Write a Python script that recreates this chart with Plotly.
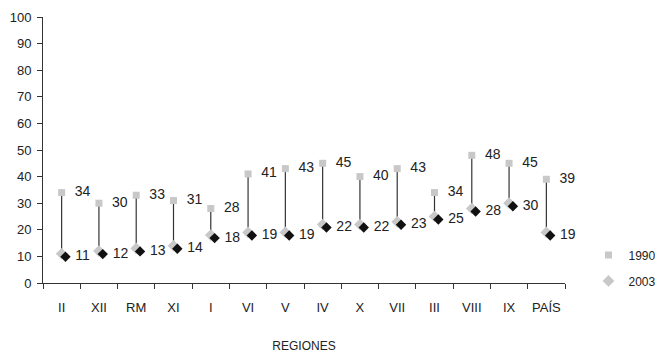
import plotly.graph_objects as go

regiones = ["II", "XII", "RM", "XI", "I", "VI", "V", "IV", "X", "VII", "III", "VIII", "IX", "PAÍS"]
v1990 = [34, 30, 33, 31, 28, 41, 43, 45, 40, 43, 34, 48, 45, 39]
v2003 = [11, 12, 13, 14, 18, 19, 19, 22, 22, 23, 25, 28, 30, 19]

FONT = "Liberation Sans, Arial, sans-serif"
GREY = "#c8c8c8"

diff = [a - b for a, b in zip(v1990, v2003)]

fig = go.Figure()

# shadowed black diamonds (2003) drawn on offset axes, with labels
fig.add_trace(go.Scatter(
    x=regiones, y=v2003, mode="markers+text", xaxis="x2", yaxis="y2",
    marker=dict(symbol="diamond", size=8, color="#111111"),
    text=[f" {v}" for v in v2003], textposition="middle right",
    textfont=dict(family=FONT, size=14, color="#222222"),
    showlegend=False, hoverinfo="skip", cliponaxis=False,
))

# 1990 with drop line to 2003
fig.add_trace(go.Scatter(
    x=regiones, y=v1990, mode="markers+text", name="1990",
    marker=dict(symbol="square", size=7, color=GREY),
    error_y=dict(type="data", symmetric=False, array=[0] * len(v1990),
                 arrayminus=diff, width=0, thickness=1.2, color="#333333"),
    text=[f"  {v}" for v in v1990], textposition="middle right",
    textfont=dict(family=FONT, size=14, color="#222222"),
    legendgroup="a", cliponaxis=False,
))

fig.add_trace(go.Scatter(
    x=regiones, y=v2003, mode="markers", name="2003",
    marker=dict(symbol="diamond", size=9, color=GREY),
    legendgroup="b", cliponaxis=False,
))

px_per_cat = 545 / 14
dx = 4 / px_per_cat
dy = 3 / 2.66

fig.update_layout(
    width=663, height=345,
    margin=dict(l=35, r=83, t=9, b=70),
    paper_bgcolor="white", plot_bgcolor="white",
    font=dict(family=FONT, size=13, color="#222222"),
    xaxis=dict(
        type="category", categoryorder="array", categoryarray=regiones,
        range=[-0.5, 13.5], showline=True, linecolor="#333333", linewidth=1,
        ticks="outside", tickson="boundaries", ticklen=5, tickcolor="#333333",
        showgrid=False, zeroline=False, ticklabelstandoff=12, tickangle=0,
        automargin=False,
        tickfont=dict(family=FONT, size=13, color="#222222"),
        title=dict(text="REGIONES", standoff=28,
                   font=dict(family=FONT, size=12, color="#222222")),
    ),
    yaxis=dict(
        range=[0, 100], dtick=10, showline=True, linecolor="#333333", linewidth=1,
        ticks="outside", ticklen=5, tickcolor="#333333", showgrid=False,
        zeroline=False, ticklabelstandoff=3, automargin=False,
        tickfont=dict(family=FONT, size=13, color="#222222"),
    ),
    xaxis2=dict(
        type="category", categoryorder="array", categoryarray=regiones,
        overlaying="x", range=[-0.5 - dx, 13.5 - dx], visible=False,
    ),
    yaxis2=dict(overlaying="y", range=[dy, 100 + dy], visible=False),
    legend=dict(
        x=1.045, y=0.16, xanchor="left", yanchor="top",
        font=dict(family=FONT, size=12, color="#222222"),
        traceorder="grouped", tracegroupgap=7, bgcolor="rgba(0,0,0,0)",
    ),
)

fig.write_html("out.html")
